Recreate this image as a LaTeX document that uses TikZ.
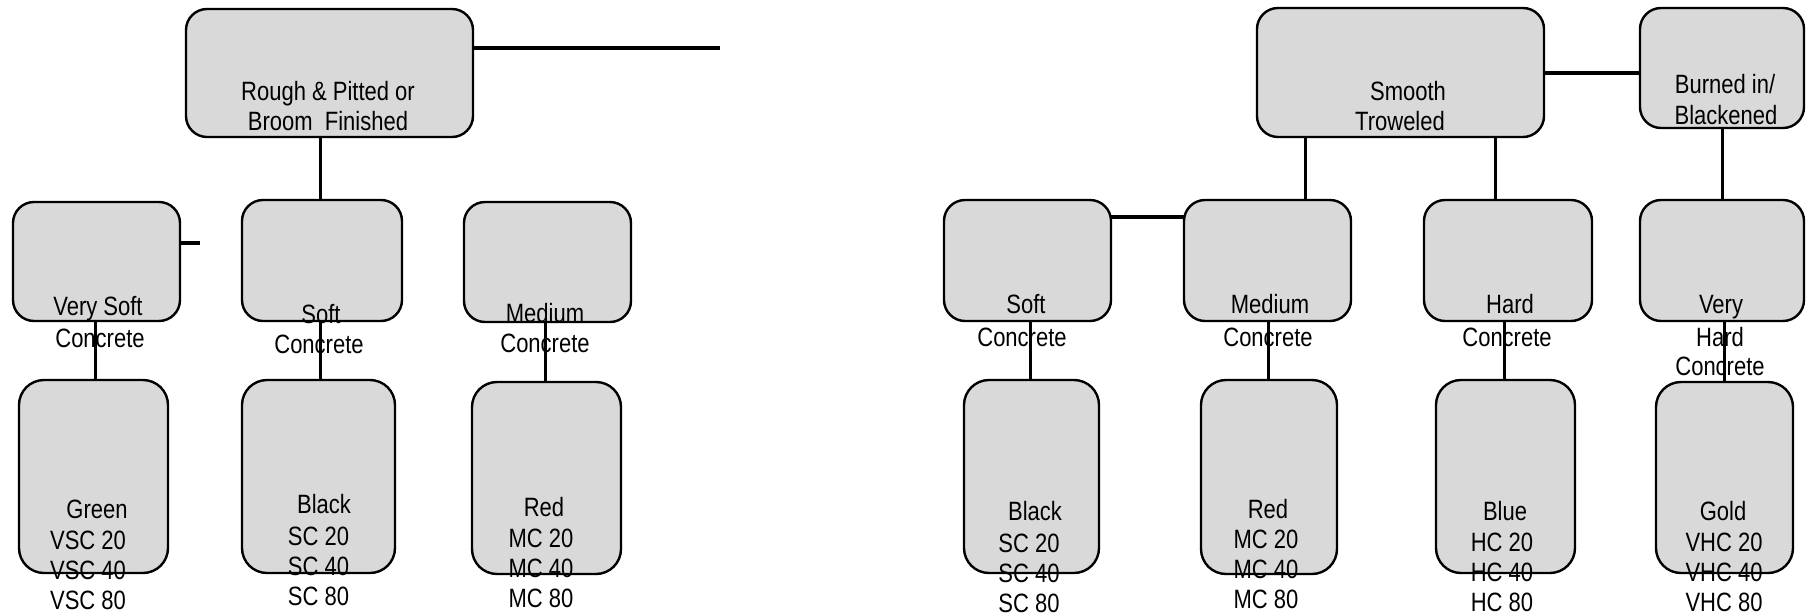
\documentclass[tikz,border=0pt]{standalone}
\usepackage{fontspec}
\setmainfont[FakeStretch=0.83]{Liberation Sans}
\definecolor{boxgray}{HTML}{D9D9D9}
\tikzset{
  box/.style={draw=black, fill=boxgray, line width=2.4pt, rounded corners=21pt, inner sep=0pt, outer sep=0pt},
  tallbox/.style={box, rounded corners=25pt},
  lbl/.style={font=\fontsize{26.5}{30}\selectfont, inner sep=0pt, anchor=base},
  conn/.style={draw=black, line width=3pt},
  hconn/.style={draw=black, line width=4pt}
}
\begin{document}
\begin{tikzpicture}[x=1pt,y=-1pt]
\useasboundingbox (0,0) rectangle (1808,616);
% ---------- left tree: boxes ----------
\node[box, minimum width=287pt, minimum height=128pt] (RP) at (329.5,73) {};
\node[box, minimum width=167pt, minimum height=119pt] (VS) at (96.5,261.5) {};
\node[box, minimum width=160pt, minimum height=121pt] (S)  at (322,260.5) {};
\node[box, minimum width=167pt, minimum height=120pt] (M)  at (547.5,262) {};
\node[tallbox, minimum width=149pt, minimum height=193pt] (G) at (93.5,476.5) {};
\node[tallbox, minimum width=153pt, minimum height=193pt] (B) at (318.5,476.5) {};
\node[tallbox, minimum width=149pt, minimum height=192pt] (R) at (546.5,478) {};
% ---------- right tree: boxes ----------
\node[box, minimum width=287pt, minimum height=129pt] (ST) at (1400.5,72.5) {};
\node[box, minimum width=164pt, minimum height=120pt] (BB) at (1722,68) {};
\node[box, minimum width=167pt, minimum height=121pt] (S2) at (1027.5,260.5) {};
\node[box, minimum width=167pt, minimum height=121pt] (M2) at (1267.5,260.5) {};
\node[box, minimum width=168pt, minimum height=121pt] (H2) at (1508,260.5) {};
\node[box, minimum width=164pt, minimum height=121pt] (VH) at (1722,260.5) {};
\node[tallbox, minimum width=135pt, minimum height=193pt] (B2) at (1031.5,476.5) {};
\node[tallbox, minimum width=136pt, minimum height=194pt] (R2) at (1269,477) {};
\node[tallbox, minimum width=139pt, minimum height=193pt] (BL) at (1505.5,476.5) {};
\node[tallbox, minimum width=137pt, minimum height=191pt] (GD) at (1724.5,477.5) {};
% ---------- left tree: labels ----------
\node[lbl] (tRP1) at (328,100) {Rough \& Pitted or};
\node[lbl] (tRP2) at (328,130) {Broom\ \ Finished};
\node[lbl] (tVS1) at (98,315) {Very Soft};
\node[lbl] (tVS2) at (100,347) {Concrete};
\node[lbl] (tS1)  at (321,323) {Soft};
\node[lbl] (tS2)  at (319,353) {Concrete};
\node[lbl] (tM1)  at (545,322) {Medium};
\node[lbl] (tM2)  at (545,352) {Concrete};
\node[lbl] (tG1) at (97,518) {Green};
\node[lbl] (tG2) at (88,549) {VSC 20};
\node[lbl] (tG3) at (88,579) {VSC 40};
\node[lbl] (tG4) at (88,609) {VSC 80};
\node[lbl] (tB1) at (324,513) {Black};
\node[lbl] (tB2) at (318.5,545) {SC 20};
\node[lbl] (tB3) at (318.5,575) {SC 40};
\node[lbl] (tB4) at (318.5,605) {SC 80};
\node[lbl] (tR1) at (544,516) {Red};
\node[lbl] (tR2) at (541,547) {MC 20};
\node[lbl] (tR3) at (541,577) {MC 40};
\node[lbl] (tR4) at (541,607) {MC 80};
% ---------- right tree: labels ----------
\node[lbl] (tST1) at (1408,100) {Smooth};
\node[lbl] (tST2) at (1400,130) {Troweled};
\node[lbl] (tBB1) at (1725,93) {Burned in/};
\node[lbl] (tBB2) at (1726,124) {Blackened};
\node[lbl] (tS21) at (1026,313) {Soft};
\node[lbl] (tS22) at (1022,346) {Concrete};
\node[lbl] (tM21) at (1270,313) {Medium};
\node[lbl] (tM22) at (1268,346) {Concrete};
\node[lbl] (tH21) at (1510,313) {Hard};
\node[lbl] (tH22) at (1507,346) {Concrete};
\node[lbl] (tVH1) at (1721,313) {Very};
\node[lbl] (tVH2) at (1720,346) {Hard};
\node[lbl] (tVH3) at (1720,375) {Concrete};
\node[lbl] (tB21) at (1035,520) {Black};
\node[lbl] (tB22) at (1029,552) {SC 20};
\node[lbl] (tB23) at (1029,582) {SC 40};
\node[lbl] (tB24) at (1029,612) {SC 80};
\node[lbl] (tR21) at (1268,518) {Red};
\node[lbl] (tR22) at (1266,548) {MC 20};
\node[lbl] (tR23) at (1266,578) {MC 40};
\node[lbl] (tR24) at (1266,608) {MC 80};
\node[lbl] (tBL1) at (1505,520) {Blue};
\node[lbl] (tBL2) at (1502,551) {HC 20};
\node[lbl] (tBL3) at (1502,581) {HC 40};
\node[lbl] (tBL4) at (1502,611) {HC 80};
\node[lbl] (tGD1) at (1723,520) {Gold};
\node[lbl] (tGD2) at (1724,551) {VHC 20};
\node[lbl] (tGD3) at (1724,581) {VHC 40};
\node[lbl] (tGD4) at (1724,611) {VHC 80};
% ---------- free ends ----------
\coordinate (RPend) at (720,48);
\coordinate (VSend) at (200,243);
% ---------- left connectors ----------
\draw[hconn] (RP.east |- RPend) -- (RPend);
\draw[hconn] (VS.east |- VSend) -- (VSend);
\draw[conn] ([xshift=-2pt]S.north |- RP.south) -- ([xshift=-2pt]S.north);
\draw[conn] ([xshift=2pt]G.north |- VS.south) -- ([xshift=2pt]G.north);
\draw[conn] ([xshift=1.5pt]B.north |- S.south) -- ([xshift=1.5pt]B.north);
\draw[conn] ([xshift=-1.5pt]R.north |- M.south) -- ([xshift=-1.5pt]R.north);
% ---------- right connectors ----------
\draw[hconn] (ST.east) -- (ST.east -| BB.west);
\draw[conn] ([xshift=37.5pt]M2.north |- ST.south) -- ([xshift=37.5pt]M2.north);
\draw[conn] ([xshift=-13pt]H2.north |- ST.south) -- ([xshift=-13pt]H2.north);
\draw[conn] (BB.south) -- (VH.north);
\draw[hconn] ([yshift=-17pt]S2.north east) -- ([yshift=-17pt]S2.north east -| M2.west);
\draw[conn] ([xshift=-1.5pt]B2.north |- S2.south) -- ([xshift=-1.5pt]B2.north);
\draw[conn] ([xshift=-1pt]R2.north |- M2.south) -- ([xshift=-1pt]R2.north);
\draw[conn] ([xshift=-1.5pt]BL.north |- H2.south) -- ([xshift=-1.5pt]BL.north);
\draw[conn] (GD.north |- VH.south) -- (GD.north);
\end{tikzpicture}
\end{document}
